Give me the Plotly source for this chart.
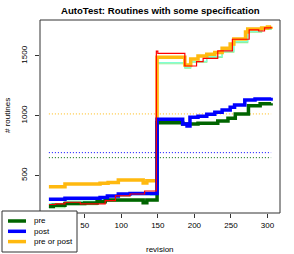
import plotly.graph_objects as go

# ---- data (revision breakpoints, step values) ----
pre_x = [1, 7, 23, 50, 67, 78, 130, 135, 149, 184, 205, 232, 246, 256, 274, 290, 305]
pre_y = [240, 250, 265, 270, 280, 295, 272, 295, 942, 931, 937, 956, 979, 1015, 1084, 1100, 1104]

post_x = [1, 23, 71, 81, 96, 112, 149, 184, 190, 194, 205, 217, 228, 238, 249, 255, 269, 283, 305]
post_y = [302, 310, 315, 328, 346, 350, 970, 930, 914, 987, 995, 1012, 1030, 1048, 1070, 1090, 1132, 1140, 1151]

either_x = [1, 23, 71, 82, 96, 130, 135, 149, 187, 195, 205, 217, 228, 238, 249, 254, 270, 273, 292, 300, 305]
either_y = [405, 428, 435, 442, 462, 437, 455, 1489, 1425, 1475, 1500, 1514, 1528, 1564, 1600, 1642, 1700, 1726, 1735, 1743, 1745]

red_x = [1, 10, 23, 44, 71, 78, 92, 112, 132, 148, 150, 187, 203, 212, 232, 252, 275, 288, 296, 305]
red_y = [257, 262, 276, 262, 262, 290, 330, 345, 370, 1540, 1522, 1416, 1452, 1480, 1542, 1640, 1718, 1709, 1735, 1745]

aqua_x = [1, 23, 71, 92, 112, 140, 149, 187, 195, 217, 238, 254, 273, 292, 305]
aqua_y = [265, 285, 300, 325, 340, 335, 1444, 1405, 1455, 1495, 1540, 1620, 1705, 1728, 1740]

lgreen_x = [1, 23, 67, 78, 130, 149, 187, 195, 217, 238, 254, 273, 292, 305]
lgreen_y = [230, 255, 270, 285, 290, 1435, 1398, 1448, 1488, 1532, 1612, 1700, 1722, 1736]

ref_x = [1, 305]
ref_either = 1015
ref_post = 691
ref_pre = 649

x_ticks = [50, 100, 150, 200, 250, 300]
y_ticks = [500, 1000, 1500]

legend_labels = ["pre", "post", "pre or post"]

C_PRE = "#006400"
C_POST = "#0000FF"
C_EITHER = "#FFB90F"
C_RED = "#FF0000"
C_AQUA = "#7FFFD4"
C_LGREEN = "#90EE90"

FONT = "Liberation Sans, Arial, sans-serif"

fig = go.Figure()

def step(x, y, color, width, dash=None, shape="hv"):
    fig.add_trace(go.Scatter(x=x, y=y, mode="lines", line=dict(color=color, width=width, shape=shape, dash=dash),
                             showlegend=False, hoverinfo="skip"))

# dotted reference lines
step(ref_x, [ref_either] * 2, C_EITHER, 1, "1px,2px", "linear")
step(ref_x, [ref_post] * 2, C_POST, 1, "1px,2px", "linear")
step(ref_x, [ref_pre] * 2, C_PRE, 1, "1px,2px", "linear")

step(lgreen_x, lgreen_y, C_LGREEN, 1.2)
step(aqua_x, aqua_y, C_AQUA, 1.2)
step(either_x, either_y, C_EITHER, 3.5)
step(pre_x, pre_y, C_PRE, 3.5)
step(post_x, post_y, C_POST, 3.5)
step(red_x, red_y, C_RED, 1.2)

L, R, T, B = 40, 14, 20, 41
W, H = 294, 254
pw, ph = W - L - R, H - T - B

def px(xp):
    return (xp - L) / pw

def py(yp):
    return (H - B - yp) / ph

shapes = [dict(type="rect", xref="paper", yref="paper", x0=0, x1=1, y0=0, y1=1,
               line=dict(color="#333333", width=1), layer="above")]
# legend box
shapes.append(dict(type="rect", xref="paper", yref="paper", x0=px(2), x1=px(77), y0=py(252), y1=py(211),
                   fillcolor="white", line=dict(color="#333333", width=1), layer="above"))
annotations = []
for i, (lab, col) in enumerate(zip(legend_labels, [C_PRE, C_POST, C_EITHER])):
    yy = 221 + i * 10.3
    shapes.append(dict(type="line", xref="paper", yref="paper", x0=px(8), x1=px(26), y0=py(yy), y1=py(yy),
                       line=dict(color=col, width=3.5), layer="above"))
    annotations.append(dict(text=lab, xref="paper", yref="paper", x=px(32), y=py(yy), xanchor="left",
                            yanchor="middle", showarrow=False, font=dict(size=8, color="black", family=FONT)))

annotations.append(dict(text="<b>AutoTest: Routines with some specification</b>", xref="paper", yref="paper",
                        x=0.5, y=py(10), xanchor="center", yanchor="middle", showarrow=False,
                        font=dict(size=9.6, color="black", family=FONT)))
annotations.append(dict(text="revision", xref="paper", yref="paper", x=0.5, y=py(249), xanchor="center",
                        yanchor="middle", showarrow=False, font=dict(size=8, color="black", family=FONT)))
annotations.append(dict(text="# routines", xref="paper", yref="paper", x=px(7), y=py(116), xanchor="center",
                        yanchor="middle", textangle=-90, showarrow=False,
                        font=dict(size=8, color="black", family=FONT)))

fig.update_layout(
    width=W, height=H, margin=dict(l=L, r=R, t=T, b=B, pad=0),
    paper_bgcolor="white", plot_bgcolor="white",
    font=dict(family=FONT, size=8, color="black"),
    shapes=shapes, annotations=annotations, showlegend=False,
    xaxis=dict(range=[-11.16, 317.16], tickvals=x_ticks, ticktext=[str(v) for v in x_ticks],
               showgrid=False, zeroline=False, showline=False, ticks="outside", ticklen=4,
               tickcolor="#333333", tickfont=dict(size=8, family=FONT)),
    yaxis=dict(range=[186, 1801], tickvals=y_ticks, ticktext=[str(v) for v in y_ticks],
               showgrid=False, zeroline=False, showline=False, ticks="outside", ticklen=4,
               tickcolor="#333333", tickangle=-90, ticklabelstandoff=5, tickfont=dict(size=8, family=FONT)),
)

fig.write_html("out.html", post_script="document.body.style.margin='0';",
               config={"displayModeBar": False})
